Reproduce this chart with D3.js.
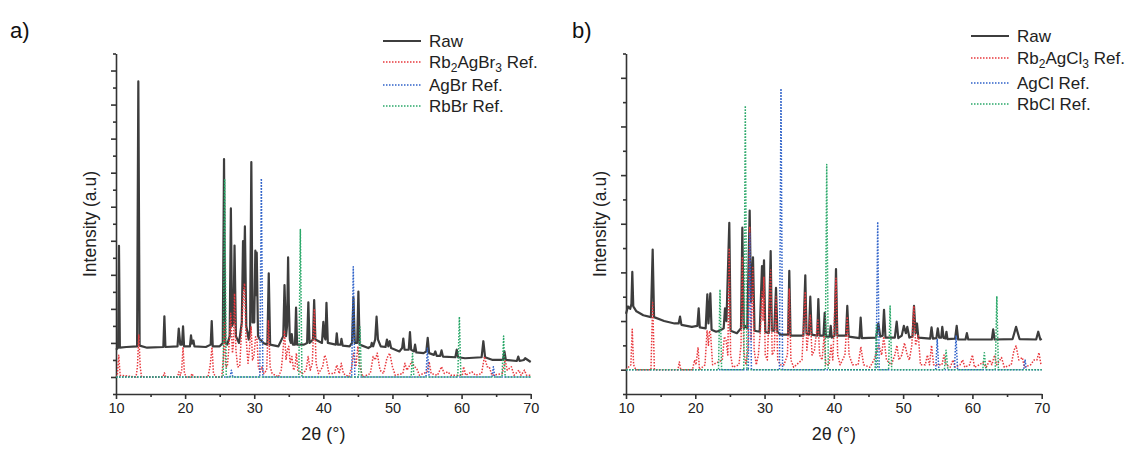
<!DOCTYPE html>
<html>
<head>
<meta charset="utf-8">
<script src="https://cdn.jsdelivr.net/npm/d3@7"></script>
<style>
  body { margin: 0; background: #fff; }
  svg { display: block; font-family: "Liberation Sans", Arial, sans-serif; }
  .axis path, .axis line { stroke: #333; stroke-width: 1.6; }
  .axis text { fill: #222; font-size: 14.5px; }
</style>
</head>
<body>
<div id="chart"></div>
<script>
"use strict";

// ---------- data: [2theta, intensity] ----------
const xTicksMajor = [10, 20, 30, 40, 50, 60, 70];
const xTicksMinor = [15, 25, 35, 45, 55, 65];

// panel a
const rawA = [[10.0,0.80],[10.3,0.86],[10.43,3.85],[10.56,0.86],[11.5,0.88],[13.05,0.9],[13.23,8.68],[13.42,0.92],[14.5,0.86],[16.85,0.88],[17.0,1.78],[17.15,0.88],[18.9,0.9],[19.08,1.42],[19.3,0.95],[19.55,0.95],[19.7,1.49],[19.85,0.9],[20.7,0.9],[20.85,1.22],[21.0,0.98],[21.2,1.07],[21.35,0.9],[23.0,0.88],[23.7,0.95],[23.85,1.64],[24.0,0.9],[25.0,0.9],[25.45,1.0],[25.63,6.40],[25.8,1.0],[26.1,0.95],[26.45,1.2],[26.62,4.95],[26.8,1.5],[27.0,1.6],[27.15,3.86],[27.35,1.2],[27.8,1.0],[28.2,1.6],[28.38,3.99],[28.5,2.6],[28.65,4.42],[28.85,1.5],[29.2,1.1],[29.4,1.4],[29.58,6.31],[29.75,1.6],[30.0,1.6],[30.16,3.71],[30.26,2.4],[30.36,3.65],[30.55,1.2],[30.8,1.1],[31.0,1.08],[31.3,1.0],[31.9,0.95],[32.1,3.04],[32.3,0.95],[33.5,0.9],[34.2,1.2],[34.38,2.70],[34.6,1.2],[34.75,1.5],[34.9,3.51],[35.0,2.17],[35.15,1.1],[35.3,1.0],[35.43,1.26],[35.6,0.95],[35.9,0.95],[36.05,2.04],[36.2,0.95],[37.2,0.95],[37.65,1.0],[37.83,2.19],[38.0,1.0],[38.5,1.1],[38.67,2.26],[38.85,1.1],[39.8,1.0],[40.0,1.62],[40.15,1.2],[40.3,1.1],[40.45,2.18],[40.65,1.0],[41.8,0.95],[41.94,1.28],[42.1,0.95],[42.5,0.95],[42.62,1.12],[42.8,0.92],[43.8,0.9],[44.15,1.0],[44.35,2.33],[44.55,1.0],[44.9,1.0],[45.07,2.51],[45.25,0.95],[46.5,0.85],[46.9,0.9],[47.0,1.0],[47.2,0.9],[47.5,1.1],[47.7,1.77],[47.9,1.1],[48.3,0.9],[49.0,0.88],[49.2,1.1],[49.4,0.9],[49.6,1.05],[49.8,0.85],[51.0,0.75],[51.4,0.85],[51.57,1.13],[51.75,0.8],[52.35,0.8],[52.53,1.32],[52.7,0.8],[53.1,0.75],[53.27,0.95],[53.45,0.72],[54.5,0.7],[54.9,0.75],[55.1,1.15],[55.3,0.7],[56.0,0.65],[56.2,0.75],[56.4,0.62],[56.9,0.62],[57.1,0.78],[57.3,0.6],[59.1,0.58],[59.3,0.8],[59.5,0.58],[60.5,0.55],[62.9,0.58],[63.15,1.05],[63.4,0.58],[64.5,0.5],[66.0,0.5],[66.2,0.75],[66.4,0.5],[68.0,0.47],[68.2,0.6],[68.4,0.47],[69.0,0.5],[69.2,0.55],[70.0,0.44]];
const refA1 = [[10,0],[10.2,0.05],[10.4,0.64],[10.6,0.05],[12.9,0],[13.1,0.3],[13.3,1.23],[13.5,0.3],[13.7,0],[16.8,0],[17.0,0.12],[17.2,0],[18.9,0],[19.1,0.15],[19.3,0.05],[19.5,0.2],[19.7,0.88],[19.9,0.1],[20.2,0],[20.8,0],[21.0,0.1],[21.2,0],[23.3,0],[23.6,0.3],[23.9,0.88],[24.1,0.1],[24.5,0],[25.3,0],[25.55,0.6],[25.7,1.6],[25.85,0.3],[26.1,0.3],[26.35,0.9],[26.6,1.87],[26.85,0.7],[27.0,1.0],[27.15,2.45],[27.35,0.8],[27.6,0.3],[27.9,0.3],[28.2,1.5],[28.45,2.5],[28.6,2.75],[28.8,1.2],[29.1,0.4],[29.3,0.8],[29.55,1.47],[29.75,0.5],[29.95,0.6],[30.2,1.18],[30.4,1.1],[30.6,0.3],[30.85,0.15],[31.1,0.3],[31.4,0.1],[31.8,0.2],[32.05,1.67],[32.3,0.3],[32.6,0.1],[33.5,0],[33.9,0.2],[34.1,0.6],[34.38,1.37],[34.6,0.5],[34.8,0.8],[35.0,0.9],[35.2,0.4],[35.45,0.6],[35.7,0.2],[35.9,0.3],[36.1,0.7],[36.3,0.2],[37.0,0.1],[37.5,0.2],[37.8,0.6],[38.1,0.2],[38.4,0.4],[38.7,2.0],[38.95,0.4],[39.3,0.1],[39.9,0.3],[40.2,0.64],[40.45,0.5],[40.8,0.1],[41.6,0.1],[41.95,0.35],[42.3,0.1],[42.6,0.4],[42.9,0.1],[43.7,0],[44.1,0.3],[44.4,0.7],[44.7,0.3],[45.0,0.9],[45.3,0.3],[45.7,0],[46.8,0.1],[47.2,0.6],[47.5,0.5],[47.8,0.7],[48.2,0.2],[48.7,0.1],[49.2,0.55],[49.6,0.7],[50.0,0.3],[50.4,0.05],[51.5,0.1],[51.8,0.4],[52.1,0.2],[52.8,0.45],[53.2,0.3],[53.5,0.25],[53.9,0.05],[55.0,0.15],[55.3,0.45],[55.6,0.1],[56.5,0.05],[57.1,0.3],[57.5,0.1],[58.0,0.15],[58.5,0.05],[60.1,0.05],[60.3,0.3],[60.6,0.05],[61.5,0.15],[62.0,0.05],[62.9,0.1],[63.3,0.6],[63.7,0.3],[64.0,0.3],[64.4,0.05],[65.9,0.1],[66.3,0.5],[66.6,0.2],[67.2,0.3],[67.6,0.05],[68.3,0.2],[68.6,0.05],[69.1,0.2],[69.4,0.05],[70,0.05]];
const refA2 = [[10,0],[26.5,0],[26.7,0.2],[26.9,0],[30.8,0],[31.03,5.83],[31.25,0],[44.1,0],[44.33,3.24],[44.55,0],[54.85,0],[55.05,0.84],[55.3,0],[64.4,0],[64.6,0.3],[64.8,0],[70,0]];
const refA3 = [[10,0],[25.5,0],[25.73,5.79],[25.95,0],[36.45,0],[36.67,4.33],[36.9,0],[45.1,0],[45.3,1.47],[45.5,0],[52.7,0],[52.9,0.69],[53.1,0],[59.45,0],[59.68,1.77],[59.9,0],[65.85,0],[66.08,1.2],[66.3,0],[70,0]];

// panel b
const rawB = [[10,1.15],[10.3,1.3],[10.6,1.25],[10.78,1.35],[10.91,2.01],[11.05,1.3],[11.5,1.2],[12.5,1.12],[13.6,1.08],[13.85,2.47],[14.05,1.08],[15.5,1.0],[17.0,0.95],[17.6,0.95],[17.8,1.09],[18.0,0.92],[19.5,0.88],[20.3,0.9],[20.49,1.26],[20.65,0.87],[21.5,0.85],[21.74,1.55],[21.9,0.95],[22.17,1.57],[22.35,0.82],[23.0,0.78],[23.5,0.8],[24.1,0.85],[24.29,1.26],[24.5,1.0],[24.91,3.02],[25.1,0.8],[26.0,0.75],[26.6,0.85],[26.79,2.92],[27.0,0.85],[27.2,0.9],[27.5,0.85],[27.85,3.27],[28.05,1.4],[28.33,2.31],[28.55,0.8],[29.3,0.78],[29.63,2.13],[29.75,1.5],[29.92,2.25],[30.1,0.78],[30.6,0.75],[30.88,2.44],[31.05,0.8],[31.4,0.8],[31.65,1.68],[31.85,0.78],[32.3,0.72],[33.4,0.72],[33.57,2.03],[33.75,0.7],[35.6,0.7],[35.88,1.94],[36.05,0.75],[36.4,0.72],[36.6,1.5],[36.8,0.72],[37.6,0.7],[37.76,1.45],[37.95,0.7],[38.5,0.7],[38.68,1.17],[38.85,0.68],[39.4,0.68],[39.55,0.9],[39.7,0.66],[40.1,0.7],[40.31,2.07],[40.5,0.7],[41.75,0.7],[41.94,1.31],[42.15,0.68],[43.7,0.65],[43.87,1.07],[44.05,0.65],[46.1,0.66],[46.42,0.95],[46.7,0.68],[47.05,0.7],[47.24,1.23],[47.45,0.66],[48.8,0.66],[49.07,0.99],[49.3,0.65],[49.8,0.7],[50.1,0.9],[50.4,0.75],[50.6,0.88],[50.9,0.66],[51.35,0.68],[51.57,1.31],[51.8,0.75],[52.0,0.95],[52.2,0.66],[53.9,0.64],[54.1,0.87],[54.3,0.64],[54.8,0.65],[55.0,0.85],[55.2,0.66],[55.5,0.66],[55.65,0.88],[55.85,0.65],[56.1,0.64],[56.25,0.78],[56.4,0.63],[57.5,0.64],[57.73,0.9],[57.95,0.62],[59.0,0.62],[59.2,0.75],[59.4,0.62],[62.8,0.62],[63.0,0.83],[63.2,0.62],[65.8,0.63],[66.3,0.88],[66.8,0.63],[69.2,0.62],[69.5,0.78],[69.8,0.62],[70,0.64]];
const refB1 = [[10,0],[10.7,0.1],[10.9,0.83],[11.1,0.1],[11.4,0],[13.6,0],[13.85,1.38],[14.1,0],[17.5,0],[17.7,0.16],[17.9,0],[19.6,0],[19.9,0.2],[20.1,0.1],[20.4,0.46],[20.6,0],[21.4,0.1],[21.7,0.81],[21.9,0.5],[22.05,0.8],[22.2,0.75],[22.5,0.1],[23.9,0.2],[24.2,0.68],[24.45,0.6],[24.7,0.3],[24.9,2.5],[25.1,0.3],[25.4,0.05],[26.3,0.1],[26.6,0.5],[26.8,2.32],[27.0,0.4],[27.3,0.1],[27.6,0.4],[27.85,2.94],[28.05,0.6],[28.3,2.1],[28.5,0.4],[28.8,0.1],[29.1,0.3],[29.4,0.8],[29.65,1.6],[29.78,1.0],[29.9,1.9],[30.1,0.3],[30.4,0.2],[30.88,2.05],[31.1,0.3],[31.4,0.4],[31.65,1.5],[31.9,0.2],[32.3,0.1],[32.8,0.1],[33.3,0.3],[33.57,1.67],[33.8,0.2],[34.2,0.05],[35.4,0.2],[35.88,1.6],[36.1,0.4],[36.6,1.12],[36.85,0.3],[37.2,0.4],[37.7,1.02],[37.95,0.3],[38.3,0.2],[38.6,0.7],[38.85,0.1],[39.3,0.1],[39.6,0.5],[39.85,0.2],[40.31,1.88],[40.55,0.3],[40.9,0.1],[41.6,0.3],[41.94,1.09],[42.2,0.3],[42.7,0.1],[43.5,0.1],[43.9,0.47],[44.3,0.1],[45.2,0.05],[45.8,0.2],[46.5,0.5],[46.9,0.3],[47.2,0.68],[47.6,0.2],[48.3,0.1],[48.8,0.3],[49.1,0.5],[49.4,0.2],[49.8,0.3],[50.2,0.55],[50.6,0.3],[50.9,0.2],[51.25,0.5],[51.55,1.31],[51.8,0.5],[52.2,0.7],[52.5,0.1],[53.2,0.1],[53.5,0.3],[53.8,0.1],[54.1,0.5],[54.4,0.1],[55.6,0.1],[55.9,0.3],[56.2,0.1],[56.8,0.05],[57.2,0.2],[57.5,0.05],[58.2,0.1],[58.6,0.2],[58.9,0.05],[59.6,0.1],[60.0,0.3],[60.3,0.05],[61.0,0.1],[61.5,0.15],[62.0,0.05],[62.5,0.2],[62.8,0.1],[63.2,0.3],[63.5,0.1],[64.2,0.25],[64.6,0.05],[65.6,0.1],[66.0,0.4],[66.3,0.49],[66.7,0.2],[67.2,0.25],[67.5,0.05],[68.4,0.1],[68.9,0.2],[69.3,0.2],[69.6,0.35],[69.9,0.1],[70,0.1]];
const refB2 = [[10,0],[27.65,0],[27.87,2.8],[28.1,0],[32.15,0],[32.37,5.78],[32.6,0],[46.1,0],[46.33,3.04],[46.55,0],[54.7,0],[54.92,0.62],[55.15,0],[57.4,0],[57.63,0.69],[57.85,0],[67.4,0],[67.6,0.2],[67.8,0],[70,0]];
const refB3 = [[10,0],[23.35,0],[23.57,1.65],[23.8,0],[27.0,0],[27.22,5.43],[27.45,0],[38.75,0],[38.97,4.22],[39.2,0],[45.95,0],[46.15,0.92],[46.35,0],[47.9,0],[48.12,1.31],[48.35,0],[55.95,0],[56.2,0.4],[56.45,0],[61.5,0],[61.72,0.35],[61.95,0],[63.3,0],[63.52,1.51],[63.75,0],[70,0]];

// legend names: [main, subscript, main, subscript, rest]
const namesA = [["Raw"], ["Rb", "2", "AgBr", "3", " Ref."], ["AgBr Ref."], ["RbBr Ref."]];
const namesB = [["Raw"], ["Rb", "2", "AgCl", "3", " Ref."], ["AgCl Ref."], ["RbCl Ref."]];

const colors = ["#3d3d3d", "#e8383d", "#2f62c9", "#2aa869"];

// ---------- drawing ----------
const svg = d3.select("#chart").append("svg")
    .attr("width", 1131)
    .attr("height", 449);

function panel(cfg) {
    const x = d3.scaleLinear().domain([10, 70]).range(cfg.xr);
    const y = d3.scaleLinear().domain(cfg.yd).range([394, 53.5]);
    const g = svg.append("g");

    const yMajor = d3.range(0, cfg.yd[1]);
    const yMinor = yMajor.map(d => d + 0.5).concat([-0.5]);

    // y axis (no labels)
    g.append("g").attr("class", "axis")
        .attr("transform", `translate(${cfg.xr[0]},0)`)
        .call(d3.axisLeft(y).tickValues(yMajor).tickSize(5).tickSizeOuter(0).tickFormat(""));
    g.append("g").attr("class", "axis")
        .attr("transform", `translate(${cfg.xr[0]},0)`)
        .call(d3.axisLeft(y).tickValues(yMinor).tickSize(3).tickSizeOuter(0).tickFormat(""))
        .select(".domain").remove();

    // x axis
    g.append("g").attr("class", "axis")
        .attr("transform", "translate(0,394)")
        .call(d3.axisBottom(x).tickValues(xTicksMajor).tickSize(5).tickSizeOuter(0).tickPadding(4));
    g.append("g").attr("class", "axis")
        .attr("transform", "translate(0,394)")
        .call(d3.axisBottom(x).tickValues(xTicksMinor).tickSize(3).tickFormat(""))
        .select(".domain").remove();

    const line = d3.line().x(d => x(d[0])).y(d => y(d[1]));

    cfg.series.forEach((s, i) => {
        g.append("path")
            .datum(s)
            .attr("fill", "none")
            .attr("stroke", colors[i])
            .attr("stroke-width", i === 0 ? 2.2 : 1.5)
            .attr("stroke-linejoin", "round")
            .attr("stroke-dasharray", i === 0 ? null : "1.5,1.5")
            .attr("d", line);
    });

    // axis titles
    g.append("text")
        .attr("x", (cfg.xr[0] + cfg.xr[1]) / 2)
        .attr("y", 440)
        .attr("text-anchor", "middle")
        .attr("font-size", 18)
        .attr("fill", "#222")
        .text("2θ (°)");
    g.append("text")
        .attr("transform", `translate(${cfg.ylabX},224) rotate(-90)`)
        .attr("text-anchor", "middle")
        .attr("font-size", 17.5)
        .attr("fill", "#222")
        .text("Intensity (a.u)");

    // panel letter
    g.append("text")
        .attr("x", cfg.letterX)
        .attr("y", 38)
        .attr("font-size", 22)
        .attr("fill", "#111")
        .text(cfg.letter);

    // legend
    const lg = g.append("g");
    cfg.names.forEach((n, i) => {
        const ly = cfg.legRows[i];
        lg.append("line")
            .attr("x1", cfg.legX).attr("x2", cfg.legX + 38)
            .attr("y1", ly).attr("y2", ly)
            .attr("stroke", colors[i])
            .attr("stroke-width", i === 0 ? 1.8 : 1.5)
            .attr("stroke-dasharray", i === 0 ? null : "1.5,1.5");
        const t = lg.append("text")
            .attr("x", cfg.legX + 46)
            .attr("y", ly + 6)
            .attr("font-size", 17)
            .attr("fill", "#222");
        n.forEach((part, k) => {
            const sub = k % 2 === 1;
            t.append("tspan")
                .attr("font-size", sub ? 12 : 17)
                .attr("dy", sub ? 3.5 : (k > 0 ? -3.5 : 0))
                .text(part);
        });
    });
}

panel({
    xr: [116, 530.7], yd: [-0.5, 9.5], ylabX: 96, letter: "a)", letterX: 10,
    series: [rawA, refA1, refA2, refA3], names: namesA,
    legX: 383, legRows: [41, 62, 85, 106]
});
panel({
    xr: [626, 1041.7], yd: [-0.5, 6.5], ylabX: 606, letter: "b)", letterX: 572,
    series: [rawB, refB1, refB2, refB3], names: namesB,
    legX: 971, legRows: [36, 58, 83, 104]
});
</script>
</body>
</html>
